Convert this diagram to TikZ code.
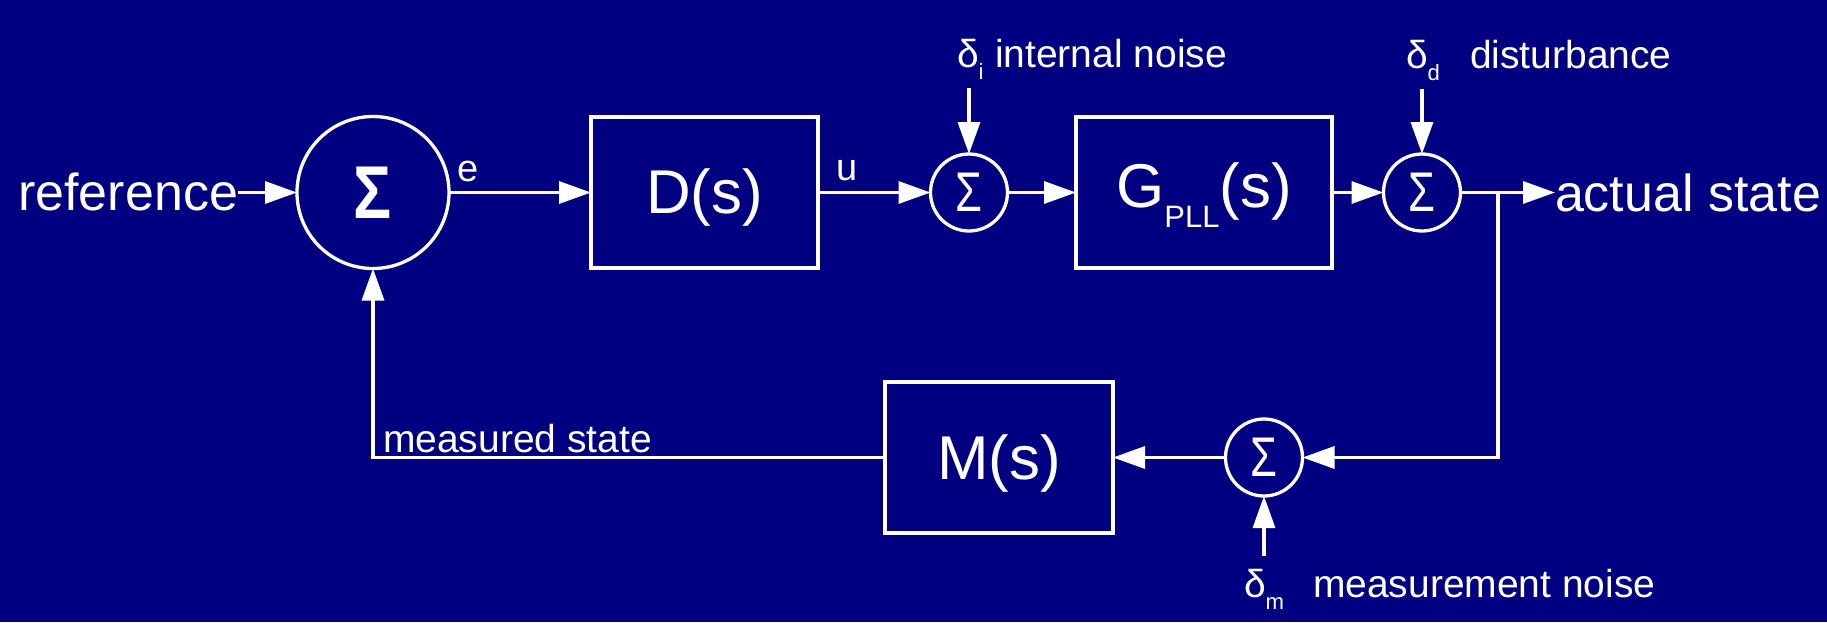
\documentclass[tikz,border=0pt]{standalone}
\usepackage{fontspec}
\setmainfont{Liberation Sans}
\usetikzlibrary{arrows.meta}
\definecolor{bgnavy}{RGB}{0,0,128}
\newcommand\fs[1]{\fontsize{#1}{#1}\selectfont}
\newcommand\lowsub[1]{\raisebox{-1.2mm}{\fontsize{6.3pt}{7pt}\selectfont #1}}
\begin{document}
\begin{tikzpicture}[x=0.1mm,y=-0.1mm,
  every node/.style={text=white, inner sep=0pt, outer sep=0pt},
  wire/.style={draw=white, line width=0.33mm},
  arr/.style={wire, -{Triangle[length=3.2mm,width=2.2mm]}},
  blockbox/.style={draw=white, line width=0.33mm, rectangle, minimum height=15.1mm, text depth=0pt, font=\fs{17.6pt}},
  sumbig/.style={draw=white, line width=0.33mm, circle, minimum size=15.2mm},
  sumsmall/.style={draw=white, line width=0.33mm, circle, minimum size=7.7mm},
  lbl/.style={anchor=base west, font=\fs{10.8pt}},
  note/.style={anchor=base west, font=\fs{11.1pt}},
  bigio/.style={font=\fs{14.8pt}}
]
\fill[bgnavy] (0,0) rectangle (1827,622);
\useasboundingbox (0,0) rectangle (1827,622);

% blocks
\node[sumbig] (s1) at (373,192.5) {\scalebox{0.85}[1]{\fs{21.3pt}\bfseries Σ}};
\node[blockbox, minimum width=22.7mm, text height=4.1mm] (D) at (704.5,192.5) {D(s)};
\node[sumsmall] (si) at (969,192.5) {\scalebox{0.78}[1]{\fs{15.9pt}Σ}};
\node[blockbox, minimum width=25.6mm, text height=2.9mm] (G) at (1204,192.5) {G\raisebox{-2mm}{\fs{8.8pt}PLL}(s)};
\node[sumsmall] (sd) at (1422,192.5) {\scalebox{0.78}[1]{\fs{15.9pt}Σ}};
\node[sumsmall] (sm) at (1264,457.5) {\scalebox{0.78}[1]{\fs{15.9pt}Σ}};
\node[blockbox, minimum width=22.8mm, text height=4.3mm] (M) at (999,457.5) {M(s)};

% input / output texts
\node[bigio, anchor=base east] (ref) at (238,210) {reference};
\node[bigio, anchor=base west] (act) at (1555,211) {actual state};

% labels
\node[lbl] (elbl) at (457,181) {e};
\node[lbl] (ulbl) at (836,180) {u};
\node[note] (mslbl) at (383,452) {measured state};
\node[note] (di) at (957,67) {δ\lowsub{i}};
\node[note] (ditxt) at (995,67) {internal noise};
\node[note] (dd) at (1406,68) {δ\lowsub{d}};
\node[note] (ddtxt) at (1470,68) {disturbance};
\node[note] (dm) at (1244,597) {δ\lowsub{m}};
\node[note] (dmtxt) at (1313,597) {measurement noise};

% coordinates
\coordinate (br) at (1498,192.5);
\coordinate (diIn) at (969,88);
\coordinate (ddIn) at (1422,89);
\coordinate (dmIn) at (1264,556);

% connectors
\draw[arr] (ref.east |- s1.west) -- (s1.west);
\draw[arr] (s1.east) -- (D.west);
\draw[arr] (D.east) -- (si.west);
\draw[arr] (si.east) -- (G.west);
\draw[arr] (G.east) -- (sd.west);
\draw[arr] (sd.east) -- (act.west |- sd.east);
\draw[arr] (br) |- (sm.east);
\draw[arr] (sm.west) -- (M.east);
\draw[arr] (M.west) -| (s1.south);
\draw[arr] (diIn) -- (si.north);
\draw[arr] (ddIn) -- (sd.north);
\draw[arr] (dmIn) -- (sm.south);
\end{tikzpicture}
\end{document}
